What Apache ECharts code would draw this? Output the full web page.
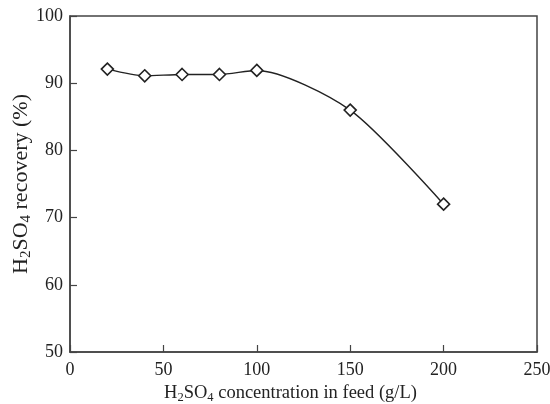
<!DOCTYPE html>
<html>
<head>
<meta charset="utf-8">
<script src="https://cdn.jsdelivr.net/npm/echarts@6/dist/echarts.min.js"></script>
<style>html,body{margin:0;padding:0;background:#fff;}#c{width:550px;height:404px;}</style>
</head>
<body>
<div id="c"></div>
<script>
const concentration = [20, 40, 60, 80, 100, 150, 200];
const recovery = [92.1, 91.1, 91.3, 91.3, 91.9, 86.0, 72.0];
const xTicks = [0, 50, 100, 150, 200, 250];
const yTicks = [50, 60, 70, 80, 90, 100];

const serif = '"Liberation Serif", "DejaVu Serif", serif';
const rich = {
  a: {fontFamily: serif, fontSize: 18.5, color: '#222'},
  s: {fontFamily: serif, fontSize: 12.5, color: '#222', padding: [9, 0, 0, 0]}
};
const richY = {
  a: {fontFamily: serif, fontSize: 22, color: '#222'},
  s: {fontFamily: serif, fontSize: 15, color: '#222', padding: [11, 0, 0, 0]}
};
const chart = echarts.init(document.getElementById('c'));
chart.setOption({
  animation: false,
  backgroundColor: '#fff',
  grid: {left: 70, right: 13, top: 16, bottom: 52, containLabel: false, outerBoundsMode: 'none', show: true, borderColor: '#444', borderWidth: 1.5, backgroundColor: 'transparent'},
  xAxis: {
    type: 'value', min: xTicks[0], max: xTicks[xTicks.length - 1], interval: 50,
    name: '{a|H}{s|2}{a|SO}{s|4}{a| concentration in feed (g/L)}',
    nameLocation: 'middle', nameGap: 28,
    nameTextStyle: {rich: rich, padding: [0, 26, 0, 0]},
    axisLine: {lineStyle: {color: '#444', width: 1.5}},
    axisTick: {inside: true, length: 7, lineStyle: {color: '#444', width: 1.2}},
    axisLabel: {fontFamily: serif, fontSize: 18, color: '#222', margin: 9},
    splitLine: {show: false}
  },
  yAxis: {
    type: 'value', min: yTicks[0], max: yTicks[yTicks.length - 1], interval: 10,
    name: '{a|H}{s|2}{a|SO}{s|4}{a| recovery (%)}',
    nameLocation: 'middle', nameGap: 36, nameRotate: 90, nameMoveOverlap: false,
    nameTextStyle: {rich: richY},
    axisLine: {lineStyle: {color: '#444', width: 1.5}},
    axisTick: {inside: true, length: 7, lineStyle: {color: '#444', width: 1.2}},
    axisLabel: {fontFamily: serif, fontSize: 18, color: '#222', margin: 7},
    splitLine: {show: false}
  },
  series: [{
    type: 'line',
    data: concentration.map((x, i) => [x, recovery[i]]),
    smooth: 0.25,
    symbol: 'diamond',
    symbolSize: 12,
    itemStyle: {color: '#fff', borderColor: '#222', borderWidth: 1.6},
    lineStyle: {color: '#222', width: 1.4}
  }]
});
</script>
</body>
</html>
